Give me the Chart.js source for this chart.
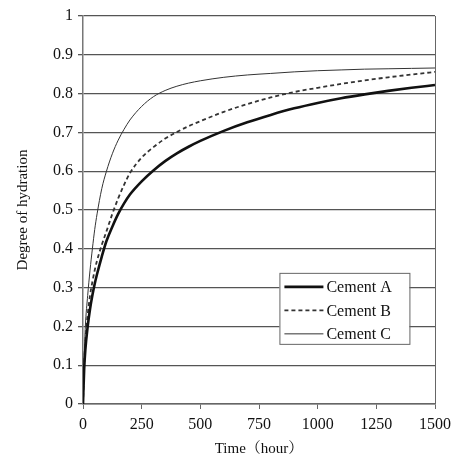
<!DOCTYPE html>
<html>
<head>
<meta charset="utf-8">
<script src="https://cdn.jsdelivr.net/npm/chart.js"></script>
<style>
  html, body { margin: 0; padding: 0; background: #fff; }
  #wrap { width: 457px; height: 458px; }
</style>
</head>
<body>
<div id="wrap"><canvas id="HydrationChart"></canvas></div>
<script>
const hours = [0, 5, 10, 20, 30, 40, 50, 60, 80, 100, 125, 150, 175, 200, 250, 300, 350, 400, 450, 500, 600, 700, 800, 900, 1000, 1100, 1200, 1300, 1400, 1500];
const cementA = [0, 0.09, 0.14, 0.20, 0.245, 0.28, 0.31, 0.335, 0.38, 0.42, 0.457, 0.49, 0.517, 0.54, 0.574, 0.602, 0.626, 0.646, 0.663, 0.678, 0.704, 0.726, 0.745, 0.762, 0.776, 0.788, 0.798, 0.807, 0.815, 0.822];
const cementB = [0, 0.10, 0.16, 0.23, 0.28, 0.315, 0.345, 0.37, 0.41, 0.445, 0.49, 0.53, 0.565, 0.595, 0.635, 0.662, 0.684, 0.701, 0.716, 0.729, 0.753, 0.773, 0.79, 0.804, 0.815, 0.825, 0.834, 0.842, 0.849, 0.856];
const cementC = [0, 0.12, 0.20, 0.28, 0.345, 0.40, 0.45, 0.49, 0.555, 0.60, 0.645, 0.68, 0.708, 0.732, 0.767, 0.792, 0.808, 0.819, 0.827, 0.833, 0.842, 0.848, 0.852, 0.856, 0.859, 0.861, 0.863, 0.864, 0.865, 0.866];
const yTickLabels = ['0', '0.1', '0.2', '0.3', '0.4', '0.5', '0.6', '0.7', '0.8', '0.9', '1'];

const serif = "'Liberation Serif', 'Noto Serif CJK JP', 'Noto Sans CJK JP', serif";

function pts(ys) {
    return hours.map((h, i) => ({ x: h, y: ys[i] }));
}

// legend box drawn inside the plot, plus the right frame line
const insideLegend = {
    id: 'insideLegend',
    afterDatasetsDraw(chart) {
        const ctx = chart.ctx;
        const a = chart.chartArea;
        ctx.save();
        ctx.strokeStyle = '#666';
        ctx.lineWidth = 1;
        ctx.beginPath();
        ctx.moveTo(a.right + 0.5, a.top);
        ctx.lineTo(a.right + 0.5, a.bottom);
        ctx.stroke();

        const bx = a.left + (a.right - a.left) * 0.558;
        const by = a.top + (a.bottom - a.top) * 0.662;
        const bw = 130, bh = 71;
        ctx.fillStyle = '#fff';
        ctx.fillRect(bx, by, bw, bh);
        ctx.strokeStyle = '#666';
        ctx.strokeRect(bx + 0.5, by + 0.5, bw, bh);

        ctx.font = '16px ' + serif;
        ctx.textBaseline = 'middle';
        chart.data.datasets.forEach((ds, i) => {
            const yy = by + 14 + i * 23.5;
            ctx.strokeStyle = ds.borderColor;
            ctx.lineWidth = ds.borderWidth;
            ctx.setLineDash(ds.borderDash || []);
            ctx.beginPath();
            ctx.moveTo(bx + 5, yy);
            ctx.lineTo(bx + 44, yy);
            ctx.stroke();
            ctx.setLineDash([]);
            ctx.fillStyle = '#111';
            ctx.fillText(ds.label, bx + 47, yy + 1);
        });
        ctx.restore();
    }
};

new Chart(document.getElementById('HydrationChart').getContext('2d'), {
    type: 'line',
    data: {
        datasets: [
            { label: 'Cement A', data: pts(cementA), borderColor: '#111', borderWidth: 2.6, pointRadius: 0, cubicInterpolationMode: 'monotone' },
            { label: 'Cement B', data: pts(cementB), borderColor: '#333', borderWidth: 1.8, borderDash: [4, 3], pointRadius: 0, cubicInterpolationMode: 'monotone' },
            { label: 'Cement C', data: pts(cementC), borderColor: '#333', borderWidth: 1, pointRadius: 0, cubicInterpolationMode: 'monotone' }
        ]
    },
    options: {
        responsive: true,
        maintainAspectRatio: false,
        animation: false,
        layout: { padding: { top: 16, right: 21, left: 0, bottom: 0 } },
        plugins: { legend: { display: false }, tooltip: { enabled: false } },
        scales: {
            x: {
                type: 'linear',
                min: 0, max: 1500,
                afterFit(scale) { scale.height = 54; },
                ticks: { stepSize: 250, color: '#111', padding: 6, font: { family: serif, size: 16 }, callback: v => String(v) },
                grid: { drawOnChartArea: false, drawTicks: true, tickLength: 5, color: '#666' },
                border: { color: '#666', width: 1.5 },
                title: { display: true, text: 'Time（hour）', color: '#111', font: { family: serif, size: 15 }, padding: { top: 4, bottom: 0 } }
            },
            y: {
                min: 0, max: 1,
                afterFit(scale) { scale.width = 83; },
                ticks: {
                    stepSize: 0.1, color: '#111', padding: 5, font: { family: serif, size: 16 },
                    callback: (v, i) => yTickLabels[i]
                },
                grid: { color: '#555', lineWidth: 1.3, tickLength: 5 },
                border: { color: '#777', width: 1.5 },
                title: { display: true, text: 'Degree of hydration', color: '#111', font: { family: serif, size: 15 }, padding: { top: 14, bottom: 0 } }
            }
        }
    },
    plugins: [insideLegend]
});
</script>
</body>
</html>
